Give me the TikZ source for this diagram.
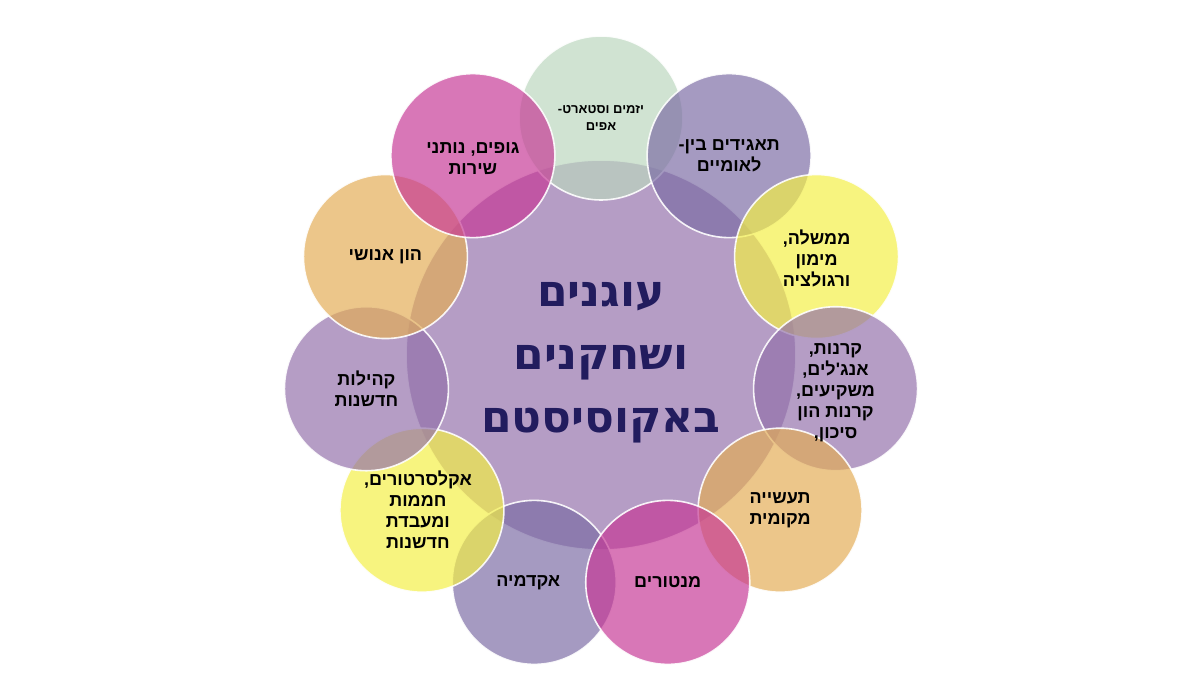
\documentclass[tikz,border=0pt]{standalone}
\usepackage{fontspec}
\usetikzlibrary{calc}
\TeXXeTstate=1
\newfontfamily\heb[Script=Hebrew]{Liberation Sans}
\newfontfamily\hebc[Script=Hebrew]{DejaVu Sans}
\definecolor{cCenter}{HTML}{9270AA}
\definecolor{cGreen}{HTML}{BBD7BE}
\definecolor{cLav}{HTML}{7B6BA4}
\definecolor{cYel}{HTML}{F4F043}
\definecolor{cPur}{HTML}{9270AA}
\definecolor{cOra}{HTML}{E3AC54}
\definecolor{cPink}{HTML}{C63795}
\definecolor{cNavy}{HTML}{221C5E}
\tikzset{
  blob/.style={fill=#1, fill opacity=0.68, draw=white, draw opacity=0.9, line width=1.6pt},
  lbl/.style={text=black, align=center, font=\heb\bfseries\fontsize{18}{21}\selectfont},
  lblsmall/.style={text=black, align=center, font=\heb\bfseries\fontsize{13}{17}\selectfont},
  lblcenter/.style={text=cNavy, align=center, font=\hebc\bfseries\fontsize{44}{63}\selectfont}
}
\begin{document}
\begin{tikzpicture}[x=1pt,y=1pt]
\useasboundingbox[fill=white] (0,0) rectangle (1200,675);
\coordinate (ctr) at (601,320);
\foreach \k in {0,...,10} \coordinate (p\k) at ($(ctr)+({90-32.7273*\k}:237)$);
% central circle
\path[blob=cCenter] (ctr) circle[radius=195];
% outer circles
\path[blob=cLav]    (p6)  circle[radius=82];
\path[blob=cYel]    (p7)  circle[radius=82];
\path[blob=cPur]    (p8)  circle[radius=82];
\path[blob=cOra]    (p9)  circle[radius=82];
\path[blob=cGreen]  (p0)  circle[radius=82];
\path[blob=cPink]   (p10) circle[radius=82];
\path[blob=cLav]    (p1)  circle[radius=82];
\path[blob=cYel]    (p2)  circle[radius=82];
\path[blob=cPur]    (p3)  circle[radius=82];
\path[blob=cOra]    (p4)  circle[radius=82];
\path[blob=cPink]   (p5)  circle[radius=82];
% labels
\node[lblcenter] (tc) at ($(ctr)+(0,-8)$) {\beginR עוגנים\endR\\\beginR ושחקנים\endR\\\beginR באקוסיסטם\endR};
\node[lblsmall] (t0) at (p0) {\beginR יזמים וסטארט-\endR\\\beginR אפים\endR};
\node[lbl] (t1) at (p1) {\beginR תאגידים בין-\endR\\\beginR לאומיים\endR};
\node[lbl] (t2) at ($(p2)+(0,-2)$) {\beginR ממשלה,\endR\\\beginR מימון\endR\\\beginR ורגולציה\endR};
\node[lbl] (t3) at ($(p3)+(0,-4)$) {\beginR קרנות,\endR\\\beginR אנג'לים,\endR\\\beginR משקיעים,\endR\\\beginR קרנות הון\endR\\\beginR סיכון,\endR};
\node[lbl] (t4) at (p4) {\beginR תעשייה\endR\\\beginR מקומית\endR};
\node[lbl] (t5) at (p5) {\beginR מנטורים\endR};
\node[lbl] (t6) at ($(p6)+(-6,0)$) {\beginR אקדמיה\endR};
\node[lbl] (t7) at ($(p7)+(-4,0)$) {\beginR אקלסרטורים,\endR\\\beginR חממות\endR\\\beginR ומעבדת\endR\\\beginR חדשנות\endR};
\node[lbl] (t8) at (p8) {\beginR קהילות\endR\\\beginR חדשנות\endR};
\node[lbl] (t9) at (p9) {\beginR הון אנושי\endR};
\node[lbl] (t10) at ($(p10)+(0,-3)$) {\beginR גופים, נותני\endR\\\beginR שירות\endR};
\end{tikzpicture}
\end{document}
